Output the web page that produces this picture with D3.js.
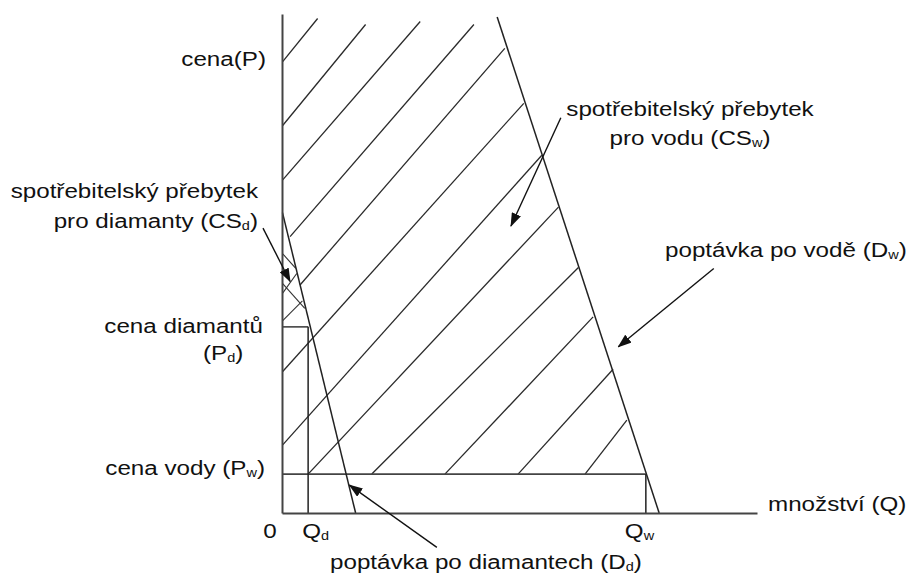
<!DOCTYPE html>
<html>
<head>
<meta charset="utf-8">
<script src="https://cdn.jsdelivr.net/npm/d3@7"></script>
<style>
    body { margin: 0; background: #fff; }
    text { font-family: "Liberation Sans", Arial, sans-serif; font-size: 20px; fill: #111; }
</style>
</head>
<body>
<svg id="chart"></svg>
<script>
// demand curves as [Q, P] end points (Q and P on a 0..100 scale)
const waterDemand = [[45.3, 99.4], [79.4, 0]];
const diamondDemand = [[0.1, 60.2], [15.5, 0]];
const priceWater = 7.8, qtyWater = 76.6;
const priceDiamond = 37.3, qtyDiamond = 5.5;

// consumer surplus hatching
const hatchLines = [
    [[0.1, 90.4], [7.5, 99.1]],
    [[0.1, 77.6], [17.6, 97.9]],
    [[0.1, 66.7], [29.1, 98.5]],
    [[1.7, 55.4], [40.4, 97.9]],
    [[3.8, 45.7], [46.9, 93.1]],
    [[0.1, 28.3], [50.9, 82.1]],
    [[0.1, 13.6], [54.7, 71.7]],
    [[5.5, 7.8], [58.2, 61.3]],
    [[18.9, 7.8], [62.4, 49.2]],
    [[34.3, 7.8], [65.5, 39.3]],
    [[49.7, 7.8], [69.7, 28.8]],
    [[63.8, 7.8], [72.6, 18.6]]
];
// cross hatching of the small diamond triangle
const crossHatch = [
    [[0.1, 44.0], [3.1, 48.0]],
    [[0.1, 38.5], [4.3, 42.5]],
    [[0.1, 52.0], [2.9, 49.0]],
    [[0.1, 46.0], [4.8, 41.0]]
];
// annotation arrows: [from, tip]
const arrows = [
    [[-4.0, 57.1], [1.7, 46.4]],
    [[58.7, 79.2], [48.2, 57.5]],
    [[90.9, 49.0], [70.8, 33.3]],
    [[32.6, -6.9], [14.2, 5.6]]
];

const labelPrice = "cena(P)";
const labelQty = "množství (Q)";
const labelCSd = ["spotřebitelský přebytek", "pro diamanty (CS_d)"];
const labelCSw = ["spotřebitelský přebytek", "pro vodu (CS_w)"];
const labelPd = ["cena diamantů", "(P_d)"];
const labelPw = "cena vody (P_w)";
const labelDw = "poptávka po vodě (D_w)";
const labelDd = "poptávka po diamantech (D_d)";

const svg_width = 909, svg_height = 576;
const svg = d3.select("#chart")
    .attr("width", svg_width)
    .attr("height", svg_height);

const x = d3.scaleLinear().domain([0, 100]).range([282, 757]);
const y = d3.scaleLinear().domain([0, 100]).range([513, 14]);

svg.append("defs").append("marker")
    .attr("id", "head")
    .attr("markerUnits", "userSpaceOnUse")
    .attr("markerWidth", 14).attr("markerHeight", 10)
    .attr("refX", 13).attr("refY", 5)
    .attr("orient", "auto")
    .append("path")
    .attr("d", "M0,0 L14,5 L0,10 Z")
    .attr("fill", "#111");

const line = d3.line().x(d => x(d[0])).y(d => y(d[1]));

function seg(pts, w = 1.3, color = "#222") {
    return svg.append("path")
        .attr("d", line(pts))
        .attr("fill", "none")
        .attr("stroke", color)
        .attr("stroke-width", w);
}

// hatching first, under the curves
hatchLines.forEach(d => seg(d, 1.3, "#2a2a2a"));
crossHatch.forEach(d => seg(d, 1.1, "#333"));

// price / quantity guides
seg([[0, priceWater], [qtyWater, priceWater]], 1.6, "#444");
seg([[qtyWater, priceWater], [qtyWater, 0]], 1.5);
seg([[0, priceDiamond], [qtyDiamond, priceDiamond]], 1.6, "#444");
seg([[qtyDiamond, priceDiamond], [qtyDiamond, 0]], 1.5);

// demand curves
seg(waterDemand, 1.5);
seg(diamondDemand, 1.5);

// axes with no ticks
svg.append("g")
    .attr("transform", `translate(${x(0)},0)`)
    .call(d3.axisLeft(y).tickValues([]).tickSizeOuter(0));
svg.append("g")
    .attr("transform", `translate(0,${y(0)})`)
    .call(d3.axisBottom(x).tickValues([]).tickSizeOuter(0));
svg.selectAll(".domain").attr("stroke", "#444").attr("stroke-width", 2);

arrows.forEach(d => seg(d, 1.4, "#111").attr("marker-end", "url(#head)"));

// text with "_x" as a subscript
function label(px, py, anchor, str) {
    const t = svg.append("text")
        .attr("transform", `translate(${px},${py}) scale(1.21,1)`)
        .attr("text-anchor", anchor);
    const parts = str.split(/_(\w)/);
    parts.forEach((p, i) => {
        if (p === "") return;
        const span = t.append("tspan").text(p);
        if (i % 2 === 1) span.attr("font-size", 12).attr("dy", 2);
        else if (i > 0) span.attr("dy", -2);
    });
    return t;
}

label(x(0) - 16, 66, "end", labelPrice);
label(258, 198, "end", labelCSd[0]);
label(258, 228, "end", labelCSd[1]);
label(263, y(priceDiamond) + 6, "end", labelPd[0]);
label(203, y(priceDiamond) + 33, "start", labelPd[1]);
label(265, y(priceWater) + 1, "end", labelPw);
label(270, 538, "middle", "0");
label(x(qtyDiamond) - 6, 538, "start", "Q_d");
label(x(qtyWater) - 21, 538, "start", "Q_w");
label(768, y(0) - 2, "start", labelQty);
label(330, 569, "start", labelDd);
label(690, 116, "middle", labelCSw[0]);
label(690, 145, "middle", labelCSw[1]);
label(665, 257, "start", labelDw);
</script>
</body>
</html>
